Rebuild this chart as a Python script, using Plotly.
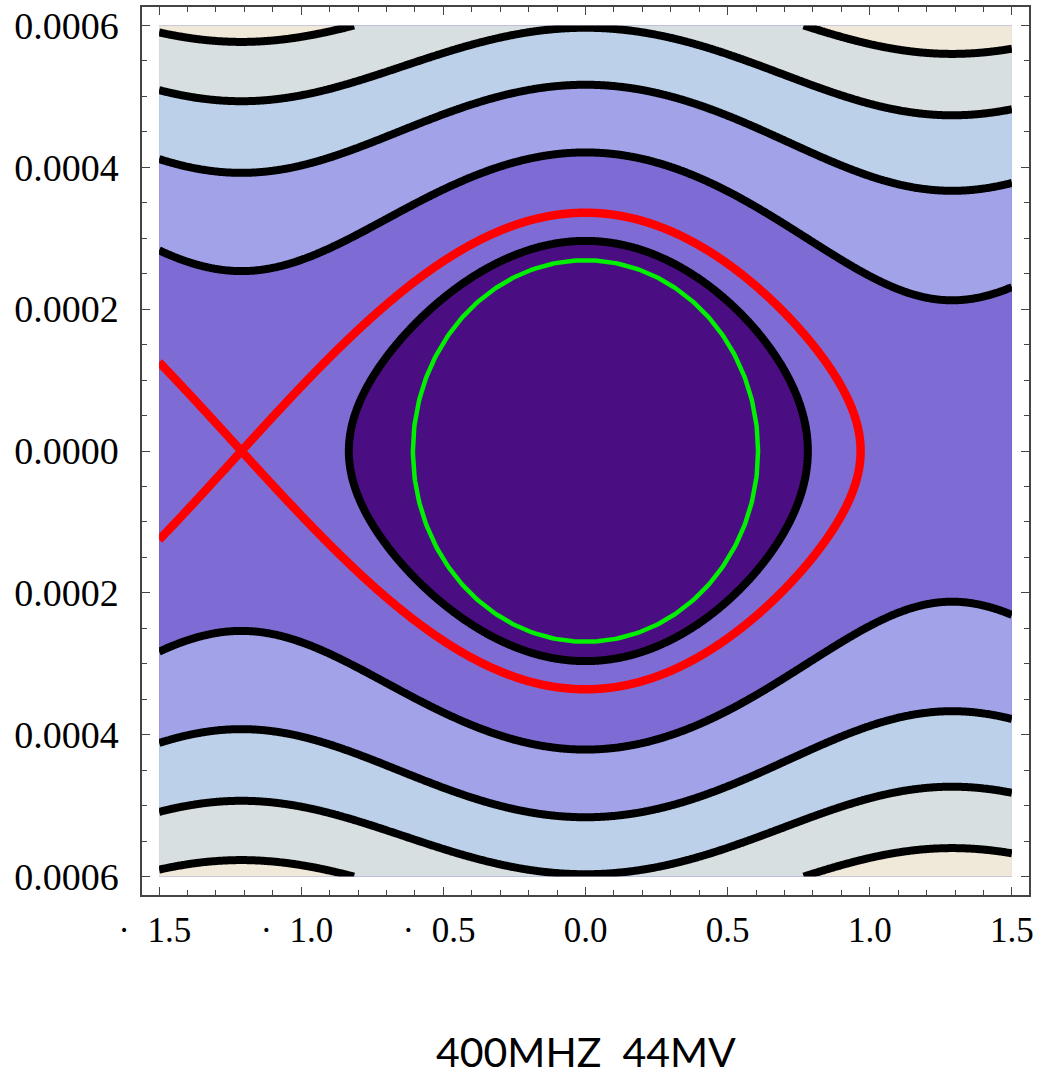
import numpy as np
import plotly.graph_objects as go

# ---- parameters ----
RF_FREQ_GHZ = 0.4          # 400 MHz; x axis in ns
PHI_S = -0.05              # synchronous phase offset [rad]
DELTA_SCALE = 0.0002473    # momentum scale (separatrix height at x=0 ~ 0.000336)

X_MIN, X_MAX = -1.5, 1.5
Y_MIN, Y_MAX = -0.0006, 0.0006

CONTOUR_START = 1.435      # Hamiltonian level of the innermost black contour
CONTOUR_STEP = 1.4625
CONTOUR_END = 7.285

BAND_COLORS = ["#4a0e82", "#7e6cd4", "#a2a2e8", "#bdd0ea", "#d8dfe0", "#f0e8d8"]

ELLIPSE_HALF_X = 0.607
ELLIPSE_HALF_Y = 0.000269

X_TICKS = [-1.5, -1.0, -0.5, 0.0, 0.5, 1.0, 1.5]
NB = "\u00a0"
X_TICK_TEXT = ["·" + NB * 2 + "1.5" + NB, "·" + NB * 2 + "1.0" + NB,
               "·" + NB * 2 + "0.5" + NB, "0.0", "0.5", "1.0", "1.5"]
Y_TICKS = [-0.0006, -0.0004, -0.0002, 0.0, 0.0002, 0.0004, 0.0006]
Y_TICK_TEXT = ["0.0006", "0.0004", "0.0002", "0.0000", "0.0002", "0.0004", "0.0006"]
TITLE = "400MHZ" + NB * 2 + "44MV"

# ---- Hamiltonian surface ----
k = 2 * np.pi * RF_FREQ_GHZ


def W(theta):
    return -np.cos(theta + PHI_S) - theta * np.sin(PHI_S)


W0 = W(0.0)
theta_u = -np.pi - 2 * PHI_S
H_SEP = W(theta_u) - W0

xs = np.linspace(X_MIN, X_MAX, 601)
ys = np.linspace(Y_MIN, Y_MAX, 601)
XX, YY = np.meshgrid(xs, ys)
Z = (YY / DELTA_SCALE) ** 2 + W(k * XX) - W0

colorscale = [[i / (len(BAND_COLORS) - 1), c] for i, c in enumerate(BAND_COLORS)]

fig = go.Figure()
fig.add_trace(go.Contour(
    x=xs, y=ys, z=Z,
    contours=dict(start=CONTOUR_START, end=CONTOUR_END, size=CONTOUR_STEP,
                  coloring="fill", showlines=True),
    colorscale=colorscale,
    line=dict(color="black", width=8, smoothing=1),
    showscale=False, hoverinfo="skip",
))
fig.add_trace(go.Contour(
    x=xs, y=ys, z=Z,
    contours=dict(start=H_SEP, end=H_SEP, size=1, coloring="none", showlines=True),
    line=dict(color="#ff0000", width=8.5, smoothing=1),
    showscale=False, hoverinfo="skip",
))

t = np.linspace(0, 2 * np.pi, 361)
fig.add_trace(go.Scatter(
    x=ELLIPSE_HALF_X * np.cos(t), y=ELLIPSE_HALF_Y * np.sin(t),
    mode="lines", line=dict(color="#00f000", width=4.5),
    hoverinfo="skip", showlegend=False,
))

axis_common = dict(
    showline=True, linecolor="#444", linewidth=1.5, mirror="allticks",
    ticks="inside", ticklen=8, tickwidth=1, tickcolor="#444",
    showgrid=False, zeroline=False, automargin=False,
    tickfont=dict(family="Liberation Serif", size=35, color="black"),
)

fig.update_layout(
    width=1038, height=1077,
    margin=dict(l=142, r=9, t=7, b=182),
    paper_bgcolor="white", plot_bgcolor="white",
    showlegend=False,
    xaxis=dict(range=[-1.56, 1.56], tickmode="array", tickvals=X_TICKS,
               ticktext=X_TICK_TEXT, ticklabelstandoff=3,
               minor=dict(tick0=0, dtick=0.1, ticks="inside", ticklen=5,
                          tickcolor="#444", tickwidth=1),
               **axis_common),
    yaxis=dict(range=[-0.000626, 0.000626], tickmode="array", tickvals=Y_TICKS,
               ticktext=Y_TICK_TEXT, ticklabelstandoff=14,
               minor=dict(tick0=0, dtick=0.00005, ticks="inside", ticklen=5,
                          tickcolor="#444", tickwidth=1),
               **axis_common),
    annotations=[dict(text=TITLE, xref="paper", yref="paper", x=0.5, y=-0.1757,
                      xanchor="center", yanchor="middle", showarrow=False,
                      font=dict(family="Lato", size=41, color="black"))],
)
fig.update_yaxes(tickfont_size=38)

fig.write_html("out.html", config={"displayModeBar": False},
               post_script="document.body.style.margin='0';document.body.style.overflow='hidden';")
